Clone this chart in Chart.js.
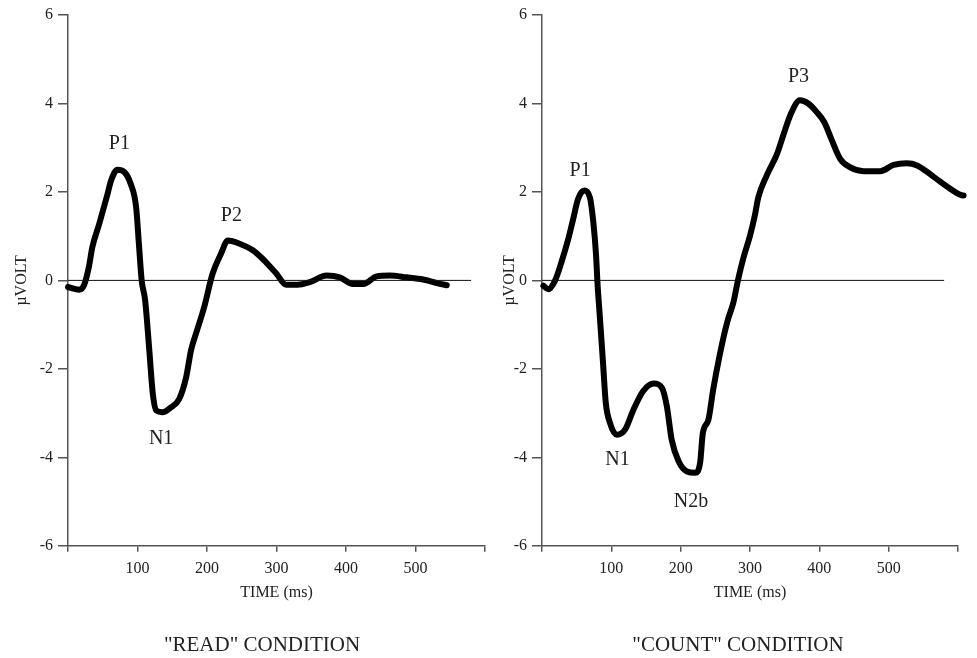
<!DOCTYPE html>
<html lang="en">
  <head>
    <meta charset="UTF-8" />
    <script src="https://cdn.jsdelivr.net/npm/chart.js@4.4.0/dist/chart.umd.min.js"></script>
    <title>ERP</title>
    <style>
      html, body { margin: 0; padding: 0; background: #fff; overflow: hidden; }
      #wrap { position: relative; width: 977px; height: 658px; }
      #readChart { position: absolute; left: 0; top: 0; }
      #countChart { position: absolute; left: 488px; top: 0; }
    </style>
  </head>
  <body>
    <div id="wrap">
      <canvas id="readChart" width="524" height="658"></canvas>
      <canvas id="countChart" width="500" height="658"></canvas>
    </div>
    <script>
      // "READ" condition (ms / microvolt)
      const readTime = [0, 16, 23, 30, 35, 45, 57, 62, 71, 81, 90, 98, 102, 106, 111, 117, 122, 127, 136, 148, 160, 170, 177, 184, 196, 208, 220, 230, 247, 266, 285, 300, 314, 330, 348, 372, 391, 410, 425, 444, 463, 487, 511, 531, 545];
      const readVolt = [-0.15, -0.21, -0.11, 0.3, 0.75, 1.28, 1.96, 2.26, 2.5, 2.45, 2.19, 1.66, 0.83, 0, -0.45, -1.58, -2.56, -2.94, -2.98, -2.87, -2.68, -2.19, -1.58, -1.21, -0.6, 0.15, 0.6, 0.9, 0.83, 0.68, 0.41, 0.15, -0.1, -0.1, -0.04, 0.11, 0.07, -0.08, -0.08, 0.09, 0.11, 0.07, 0.02, -0.06, -0.11];

      // "COUNT" condition
      const countTime = [2, 9, 19, 28, 38, 45, 52, 61, 69, 74, 78, 80, 84, 88, 92, 98, 108, 120, 132, 146, 161, 173, 180, 187, 197, 209, 221, 228, 232, 240, 247, 256, 267, 276, 283, 290, 300, 307, 312, 324, 339, 348, 358, 372, 384, 396, 407, 418, 430, 444, 464, 488, 507, 526, 541, 565, 589, 608, 627];
      const countVolt = [-0.12, -0.2, 0, 0.41, 0.94, 1.39, 1.84, 2.03, 1.88, 1.32, 0.56, -0.05, -0.95, -1.86, -2.77, -3.22, -3.49, -3.37, -2.92, -2.5, -2.33, -2.43, -2.84, -3.6, -4.09, -4.32, -4.35, -4.13, -3.45, -3.15, -2.46, -1.71, -0.95, -0.5, 0.03, 0.48, 1.01, 1.47, 1.88, 2.37, 2.86, 3.28, 3.73, 4.07, 4.0, 3.81, 3.58, 3.17, 2.75, 2.56, 2.47, 2.47, 2.61, 2.65, 2.6, 2.34, 2.07, 1.92, 1.92];

      // baseline drawn at 0 uV
      const baseTime = [0, 580];
      const baseVolt = [0, 0];

      // component names, placed at (ms, uV)
      const readPeaks = ["P1", "N1", "P2"];
      const readPeakTime = [74, 134, 235];
      const readPeakVolt = [3.08, -3.58, 1.47];

      const countPeaks = ["P1", "N1", "N2b", "P3"];
      const countPeakTime = [55, 109, 215, 370];
      const countPeakVolt = [2.49, -4.05, -5.0, 4.6];

      const xTicks = [100, 200, 300, 400, 500];
      const serif = "'Liberation Serif', 'Times New Roman', serif";
      const textColor = "#222";
      const axisColor = "#555";

      function toPoints(xs, ys) {
        return xs.map(function (x, i) {
          return { x: x, y: ys[i] };
        });
      }

      const peakLabels = {
        id: "peakLabels",
        afterDatasetsDraw(chart, args, opts) {
          const ctx = chart.ctx;
          const xs = chart.scales.x;
          const ys = chart.scales.y;
          ctx.save();
          ctx.font = "20px " + serif;
          ctx.fillStyle = textColor;
          ctx.textAlign = "center";
          ctx.textBaseline = "middle";
          opts.names.forEach(function (name, i) {
            ctx.fillText(name, xs.getPixelForValue(opts.times[i]), ys.getPixelForValue(opts.volts[i]));
          });
          ctx.restore();
        },
      };

      function makeChart(id, title, times, volts, names, pTimes, pVolts, yWidth, rightGap) {
        return new Chart(document.getElementById(id), {
          type: "scatter",
          data: {
            datasets: [
              {
                data: toPoints(baseTime, baseVolt),
                showLine: true,
                borderColor: "#111",
                borderWidth: 1,
                pointRadius: 0,
              },
              {
                data: toPoints(times, volts),
                showLine: true,
                borderColor: "#000",
                borderWidth: 6,
                borderJoinStyle: "round",
                borderCapStyle: "round",
                cubicInterpolationMode: "monotone",
                pointRadius: 0,
                clip: false,
              },
            ],
          },
          options: {
            responsive: false,
            animation: false,
            layout: { padding: { top: 15, right: 0, left: 0, bottom: 0 } },
            scales: {
              x: {
                type: "linear",
                min: 0,
                max: 600,
                afterFit: function (s) { s.height = 60; },
                border: { color: axisColor, width: 1.5 },
                grid: { drawOnChartArea: false, tickLength: 6, color: axisColor, lineWidth: 1.5 },
                ticks: {
                  stepSize: 100,
                  padding: 7,
                  maxRotation: 0,
                  color: textColor,
                  font: { family: serif, size: 16 },
                  callback: function (v) { return xTicks.includes(v) ? String(v) : ""; },
                },
                title: {
                  display: true,
                  text: "TIME (ms)",
                  color: textColor,
                  font: { family: serif, size: 16 },
                  padding: { top: 0, bottom: 3 },
                },
              },
              y: {
                min: -6,
                max: 6,
                afterFit: function (s) { s.width = yWidth; },
                border: { color: axisColor, width: 1.5 },
                grid: { drawOnChartArea: false, tickLength: 10, color: axisColor, lineWidth: 1.5 },
                ticks: {
                  stepSize: 2,
                  padding: 5,
                  color: textColor,
                  font: { family: serif, size: 16 },
                },
                title: {
                  display: true,
                  text: "\u00b5VOLT",
                  color: textColor,
                  font: { family: serif, size: 16 },
                  padding: { top: 12, bottom: 0 },
                },
              },
              // empty right-hand strip so the bottom caption stays centred on the canvas
              gap: {
                position: "right",
                min: -6,
                max: 6,
                afterFit: function (s) { s.width = rightGap; },
                border: { display: false },
                grid: { display: false },
                ticks: { display: false },
              },
            },
            plugins: {
              legend: { display: false },
              tooltip: { enabled: false },
              title: {
                display: true,
                position: "bottom",
                text: title,
                color: textColor,
                font: { family: serif, size: 21, weight: "normal" },
                padding: { top: 27, bottom: 0 },
              },
              peakLabels: { names: names, times: pTimes, volts: pVolts },
            },
          },
          plugins: [peakLabels],
        });
      }

      makeChart("readChart", '"READ" CONDITION', readTime, readVolt, readPeaks, readPeakTime, readPeakVolt, 68, 39);
      makeChart("countChart", '"COUNT" CONDITION', countTime, countVolt, countPeaks, countPeakTime, countPeakVolt, 54, 30);
    </script>
  </body>
</html>
